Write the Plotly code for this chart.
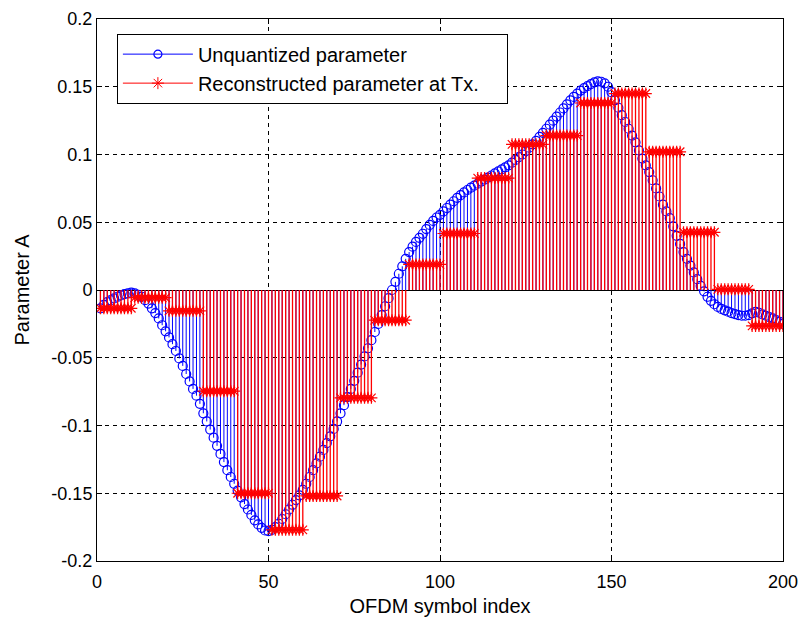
import plotly.graph_objects as go

# ---------------- data ----------------
symbol_index = list(range(1, 201))

unquantized = [
    -0.0135, -0.0110, -0.0090, -0.0075, -0.0062, -0.0050, -0.0040, -0.0030, -0.0025, -0.0020,
    -0.0025, -0.0035, -0.0050, -0.0075, -0.0100, -0.0135, -0.0170, -0.0210, -0.0260, -0.0305,
    -0.0350, -0.0400, -0.0450, -0.0505, -0.0560, -0.0620, -0.0675, -0.0730, -0.0780, -0.0840,
    -0.0910, -0.0970, -0.1030, -0.1090, -0.1150, -0.1210, -0.1270, -0.1330, -0.1380, -0.1430,
    -0.1480, -0.1530, -0.1580, -0.1620, -0.1660, -0.1700, -0.1730, -0.1755, -0.1775, -0.1780,
    -0.1770, -0.1750, -0.1725, -0.1690, -0.1655, -0.1620, -0.1585, -0.1550, -0.1515, -0.1475,
    -0.1430, -0.1380, -0.1330, -0.1280, -0.1230, -0.1180, -0.1130, -0.1080, -0.1025, -0.0970,
    -0.0910, -0.0850, -0.0790, -0.0730, -0.0670, -0.0610, -0.0550, -0.0490, -0.0430, -0.0370,
    -0.0310, -0.0250, -0.0185, -0.0120, -0.0060, 0.0000, 0.0060, 0.0120, 0.0175, 0.0230,
    0.0280, 0.0320, 0.0355, 0.0385, 0.0415, 0.0450, 0.0480, 0.0510, 0.0535, 0.0555,
    0.0580, 0.0605, 0.0630, 0.0655, 0.0680, 0.0700, 0.0720, 0.0738, 0.0755, 0.0770,
    0.0785, 0.0800, 0.0815, 0.0830, 0.0845, 0.0860, 0.0875, 0.0890, 0.0905, 0.0920,
    0.0940, 0.0960, 0.0980, 0.1000, 0.1025, 0.1050, 0.1075, 0.1100, 0.1130, 0.1160,
    0.1190, 0.1220, 0.1250, 0.1280, 0.1310, 0.1340, 0.1370, 0.1400, 0.1425, 0.1450,
    0.1472, 0.1490, 0.1505, 0.1520, 0.1532, 0.1540, 0.1537, 0.1525, 0.1500, 0.1460,
    0.1400, 0.1345, 0.1290, 0.1240, 0.1190, 0.1140, 0.1090, 0.1030, 0.0970, 0.0920,
    0.0870, 0.0810, 0.0750, 0.0690, 0.0630, 0.0580, 0.0530, 0.0470, 0.0400, 0.0340,
    0.0280, 0.0230, 0.0180, 0.0130, 0.0080, 0.0030, -0.0010, -0.0050, -0.0080, -0.0105,
    -0.0125, -0.0140, -0.0150, -0.0160, -0.0170, -0.0178, -0.0185, -0.0190, -0.0190, -0.0185,
    -0.0172, -0.0162, -0.0168, -0.0180, -0.0190, -0.0200, -0.0210, -0.0222, -0.0235, -0.0250,
]

# reconstructed (held) levels, one per block of 10 OFDM symbols
reconstructed_levels = [
    -0.0135, -0.0057, -0.0154, -0.0747, -0.1500, -0.1770, -0.1520, -0.0796, -0.0223, 0.0189,
    0.0417, 0.0826, 0.1075, 0.1140, 0.1380, 0.1450, 0.1020, 0.0426, 0.0005, -0.0265,
]
block_length = 10
reconstructed = [lvl for lvl in reconstructed_levels for _ in range(block_length)]

x_tick_vals = [0, 50, 100, 150, 200]
x_tick_text = ["0", "50", "100", "150", "200"]
y_tick_vals = [-0.2, -0.15, -0.1, -0.05, 0, 0.05, 0.1, 0.15, 0.2]
y_tick_text = ["-0.2", "-0.15", "-0.1", "-0.05", "0", "0.05", "0.1", "0.15", "0.2"]

series_names = ["Unquantized parameter", "Reconstructed parameter at Tx."]

BLUE = "rgb(0,0,255)"
RED = "rgb(255,0,0)"
FONT = "Liberation Sans, Arial, Helvetica, sans-serif"


def stem_xy(xs, ys):
    sx, sy = [], []
    for xv, yv in zip(xs, ys):
        sx += [xv, xv, None]
        sy += [0, yv, None]
    return sx, sy


fig = go.Figure()

bx, by = stem_xy(symbol_index, unquantized)
fig.add_trace(go.Scatter(x=bx, y=by, mode="lines", line=dict(color=BLUE, width=1),
                         showlegend=False, hoverinfo="skip"))
fig.add_trace(go.Scatter(x=symbol_index, y=unquantized, mode="markers",
                         marker=dict(symbol="circle-open", size=9, color=BLUE,
                                     line=dict(width=1.2, color=BLUE)),
                         showlegend=False))

rx, ry = stem_xy(symbol_index, reconstructed)
fig.add_trace(go.Scatter(x=rx, y=ry, mode="lines", line=dict(color=RED, width=1.3),
                         showlegend=False, hoverinfo="skip"))
fig.add_trace(go.Scatter(x=symbol_index, y=reconstructed, mode="markers",
                         marker=dict(symbol="asterisk-open", size=10, color=RED,
                                     line=dict(width=1.2, color=RED)),
                         showlegend=False))

# legend entries
fig.add_trace(go.Scatter(x=[None], y=[None], mode="lines+markers", name=series_names[0],
                         line=dict(color=BLUE, width=1),
                         marker=dict(symbol="circle-open", size=8, color=BLUE,
                                     line=dict(width=1.2, color=BLUE))))
fig.add_trace(go.Scatter(x=[None], y=[None], mode="lines+markers",
                         name=series_names[1] + "\u00a0\u00a0\u00a0\u00a0",
                         line=dict(color=RED, width=1),
                         marker=dict(symbol="asterisk-open", size=10, color=RED,
                                     line=dict(width=1, color=RED))))

axis_common = dict(
    showline=True, linecolor="black", linewidth=1, mirror="ticks",
    ticks="inside", ticklen=5, tickcolor="black",
    showgrid=True, gridcolor="black", gridwidth=1, griddash="4px,4px",
    tickfont=dict(family=FONT, size=18, color="black"),
    zeroline=False,
)

fig.update_xaxes(range=[0, 200], tickvals=x_tick_vals, ticktext=x_tick_text,
                 ticklabelstandoff=4,
                 title=dict(text="OFDM symbol index", font=dict(family=FONT, size=20, color="black"),
                            standoff=8),
                 **axis_common)
fig.update_yaxes(range=[-0.2, 0.2], tickvals=y_tick_vals, ticktext=y_tick_text,
                 title=dict(text="Parameter A", font=dict(family=FONT, size=20, color="black"),
                            standoff=16),
                 **axis_common)
fig.update_yaxes(zeroline=True, zerolinecolor="black", zerolinewidth=1)

fig.update_layout(
    width=802, height=621,
    margin=dict(l=97, r=19, t=19, b=60, autoexpand=False),
    paper_bgcolor="white", plot_bgcolor="white",
    font=dict(family=FONT, size=18, color="black"),
    showlegend=True,
    legend=dict(x=0.029, y=0.973, xanchor="left", yanchor="top",
                bgcolor="white", bordercolor="black", borderwidth=1,
                font=dict(family=FONT, size=20, color="black"),
                itemwidth=70, tracegroupgap=0),
)

fig.write_html("out.html")
